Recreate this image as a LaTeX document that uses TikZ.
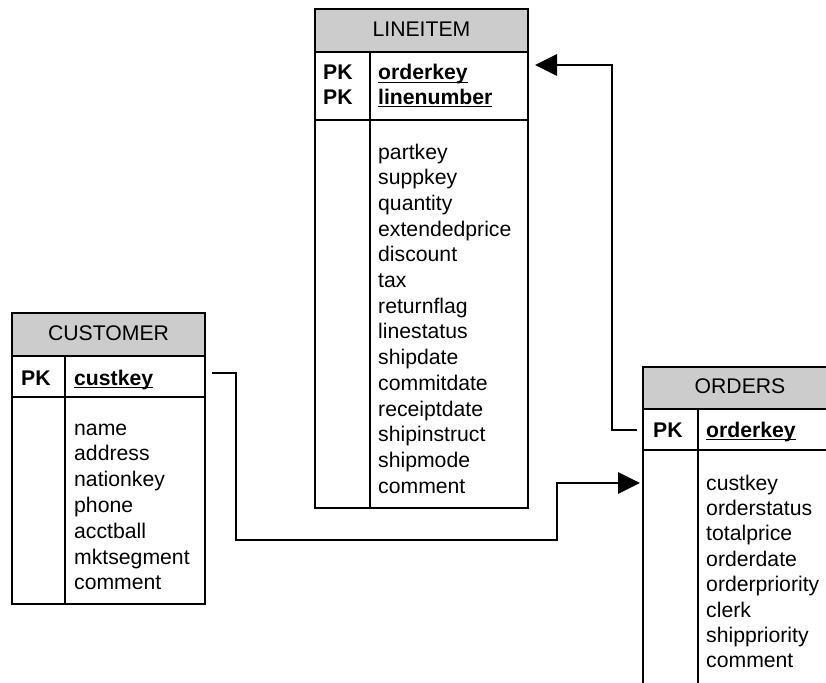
\documentclass[tikz,border=0pt]{standalone}
\usepackage{fontspec}
\setmainfont{Liberation Sans}
\usetikzlibrary{arrows.meta}
\definecolor{headgray}{HTML}{CCCCCC}
\newcommand{\keyul}[1]{\setbox0\hbox{#1}\rlap{\rule[-3.4pt]{\wd0}{1.6pt}}\box0}
\begin{document}
\begin{tikzpicture}[x=1pt,y=-1pt,
  frame/.style={draw=black,line width=1.4pt},
  hdr/.style={fill=headgray,draw=black,line width=1.4pt},
  txt/.style={anchor=base west,inner sep=0pt,font=\fontsize{21.2}{25}\selectfont},
  ttl/.style={anchor=base,inner sep=0pt,font=\fontsize{21.2}{25}\selectfont},
  key/.style={anchor=base west,inner sep=0pt,font=\fontsize{21.2}{25}\selectfont\bfseries},
  conn/.style={line width=2.9pt,-{Triangle[length=22pt,width=21pt]}}]
\clip (0,0) rectangle (826,682);
\fill[white] (0,0) rectangle (826,682);

% LINEITEM
\draw[hdr] (315,9) rectangle (528,52);
\draw[frame] (315,52) rectangle (528,508);
\draw[frame] (315,120) -- (528,120);
\draw[frame] (370,52) -- (370,508);
\node[ttl] (lititle) at (421.5,37) {LINEITEM};
\node[key] (lipk1) at (323,80) {PK};
\node[key] (lipk2) at (323,104) {PK};
\node[key] (likey1) at (378,80) {\keyul{orderkey}};
\node[key] (likey2) at (378,104) {\keyul{linenumber}};
\foreach \t [count=\i from 0] in {partkey,suppkey,quantity,extendedprice,discount,tax,returnflag,linestatus,shipdate,commitdate,receiptdate,shipinstruct,shipmode,comment}
  \node[txt] (li\i) at (378,159+25.7*\i) {\t};

% CUSTOMER
\draw[hdr] (12,313) rectangle (205,356);
\draw[frame] (12,356) rectangle (205,604);
\draw[frame] (12,397) -- (205,397);
\draw[frame] (65,356) -- (65,604);
\node[ttl] (cutitle) at (108.5,340) {CUSTOMER};
\node[key] (cupk) at (21,385) {PK};
\node[key] (cukey) at (74,385) {\keyul{custkey}};
\foreach \t [count=\i from 0] in {name,address,nationkey,phone,acctball,mktsegment,comment}
  \node[txt] (cu\i) at (74,435+25.8*\i) {\t};

% ORDERS
\draw[hdr] (643,367) rectangle (837,409);
\draw[frame] (643,409) rectangle (837,700);
\draw[frame] (643,450) -- (837,450);
\draw[frame] (698,409) -- (698,700);
\node[ttl] (ortitle) at (740,393) {ORDERS};
\node[key] (orpk) at (653,437) {PK};
\node[key] (orkey) at (706,437) {\keyul{orderkey}};
\foreach \t [count=\i from 0] in {custkey,orderstatus,totalprice,orderdate,orderpriority,clerk,shippriority,comment}
  \node[txt] (or\i) at (706,490+25.4*\i) {\t};

% connectors
\coordinate (custout) at (212,373);
\coordinate (ordin) at (640,483);
\coordinate (ordout) at (637,430);
\coordinate (liin) at (535,65);
\draw[conn] (custout) -- (236,373) |- (557,540) |- (ordin);
\draw[conn] (ordout) -- (612,430) |- (liin);
\end{tikzpicture}
\end{document}
